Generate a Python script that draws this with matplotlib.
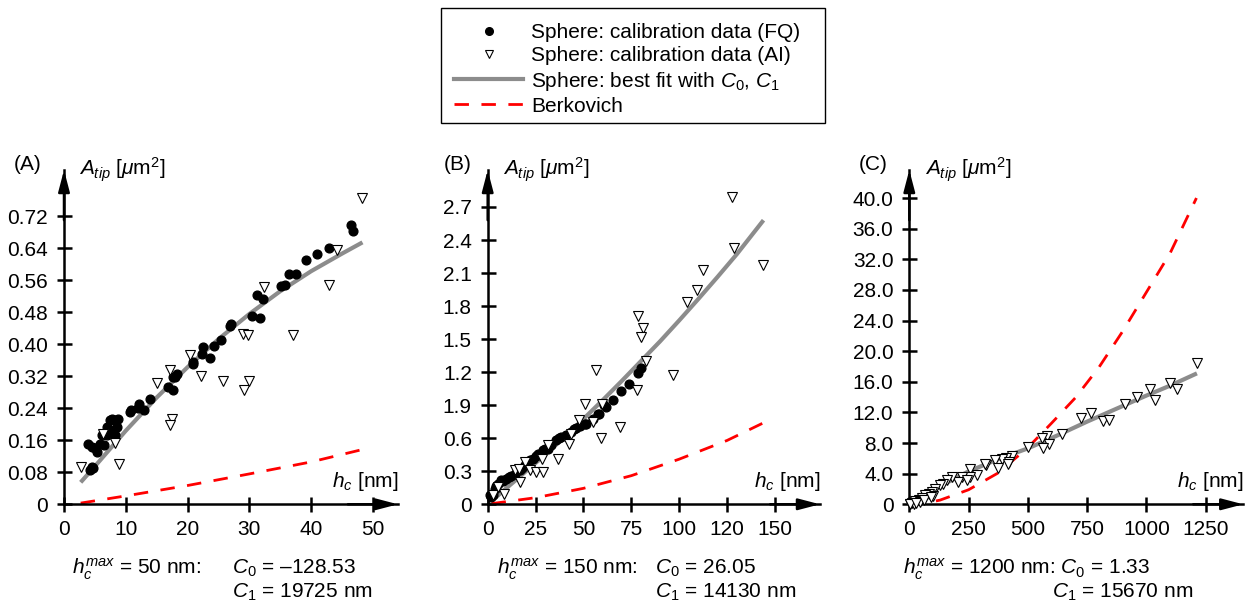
import matplotlib
matplotlib.use("Agg")
import matplotlib.pyplot as plt
from matplotlib.lines import Line2D
from matplotlib.patches import Rectangle

plt.rcParams['font.family'] = ['Liberation Sans', 'DejaVu Sans']
plt.rcParams['mathtext.fontset'] = 'custom'
plt.rcParams['mathtext.rm'] = 'Liberation Sans'
plt.rcParams['mathtext.it'] = 'Liberation Sans:italic'
plt.rcParams['mathtext.bf'] = 'Liberation Sans:bold'

# ---------------- data ----------------
# Panel A (h_c max = 50 nm)
fq_a_x = [4.2, 4.5, 4.7, 3.9, 4.5, 5.0, 5.3, 5.8, 6.4, 6.1, 6.9, 7.4, 7.7, 8.3, 8.8, 8.5, 8.0, 8.3,
          7.4, 6.9, 10.7, 10.9, 12.2, 12.0, 12.9, 13.9, 16.9, 17.6, 17.7, 18.0, 18.3, 20.8, 20.9,
          22.5, 22.4, 23.6, 24.2, 25.4, 26.9, 27.0, 30.4, 31.7, 31.3, 32.2, 35.1, 35.8, 36.4,
          37.5, 39.2, 40.9, 42.9, 46.4, 46.7]
fq_a_y = [0.085, 0.093, 0.090, 0.152, 0.143, 0.140, 0.131, 0.152, 0.148, 0.173, 0.193, 0.210,
          0.214, 0.210, 0.214, 0.193, 0.185, 0.173, 0.181, 0.173, 0.231, 0.235, 0.252, 0.242,
          0.235, 0.264, 0.293, 0.285, 0.318, 0.318, 0.327, 0.352, 0.356, 0.393, 0.377, 0.367,
          0.395, 0.410, 0.447, 0.452, 0.471, 0.466, 0.524, 0.514, 0.546, 0.549, 0.575, 0.575,
          0.612, 0.625, 0.641, 0.698, 0.683]
ai_a_x = [2.7, 6.3, 8.3, 8.9, 15.0, 17.2, 17.4, 17.2, 20.4, 22.1, 25.8, 48.3, 44.2, 32.4, 42.9,
          29.0, 29.7, 37.1, 29.9, 29.2]
ai_a_y = [0.093, 0.177, 0.153, 0.102, 0.304, 0.335, 0.2125, 0.1975, 0.3725, 0.320, 0.308, 0.767,
          0.637, 0.543, 0.5475, 0.427, 0.4225, 0.4225, 0.3075, 0.285]
fit_a_x = [2.7, 5, 10, 15, 20, 25, 30, 35, 40, 45, 48.3]
fit_a_y = [0.055, 0.095, 0.184, 0.267, 0.343, 0.413, 0.476, 0.533, 0.583, 0.627, 0.655]
berk_a_x = [2.7, 10, 20, 30, 40, 48.3]
berk_a_y = [0.003, 0.021, 0.047, 0.076, 0.106, 0.137]

# Panel B (h_c max = 150 nm)
fq_b_x = [1.0, 1.9, 2.8, 3.6, 4.5, 5.4, 7.1, 8.0, 9.7, 11.0, 12.3, 14.1, 16.7, 18.0, 19.3, 21.9,
          23.6, 25.0, 26.2, 28.8, 30.0, 31.4, 33.2, 35.8, 37.0, 38.4, 41.0, 43.6, 45.0, 46.2, 48.0,
          50.9, 51.4, 54.9, 57.5, 58.3, 60.9, 61.8, 65.3, 69.6, 74.0, 78.3, 80.0]
fq_b_y = [0.082, 0.066, 0.082, 0.143, 0.170, 0.188, 0.218, 0.210, 0.233, 0.250, 0.255, 0.279,
          0.309, 0.330, 0.355, 0.400, 0.415, 0.440, 0.460, 0.490, 0.500, 0.506, 0.536, 0.582,
          0.600, 0.612, 0.633, 0.657, 0.680, 0.697, 0.710, 0.733, 0.733, 0.779, 0.824, 0.824,
          0.900, 0.885, 0.945, 1.030, 1.097, 1.194, 1.242]
ai_b_x = [2.8, 8.3, 5.4, 14.1, 16.7, 16.3, 19.3, 21.9, 25.4, 28.8, 28.5, 31.4, 36.6, 42.4, 43.6,
          47.6, 50.9, 54.9, 59.2, 59.7, 69.1, 56.3, 127.8, 128.6, 143.9, 112.5, 109.5, 103.8,
          78.6, 81.3, 80.0, 82.7, 96.5, 77.8]
ai_b_y = [0.082, 0.097, 0.157, 0.309, 0.203, 0.324, 0.385, 0.309, 0.294, 0.294, 0.415, 0.536,
          0.415, 0.545, 0.642, 0.764, 0.915, 0.748, 0.600, 0.915, 0.700, 1.220, 2.790, 2.330,
          2.170, 2.130, 1.950, 1.840, 1.710, 1.600, 1.515, 1.300, 1.170, 1.040]
fit_b_x = [3, 10, 20, 30, 40, 50, 60, 70, 80, 90, 100, 110, 120, 130, 144]
fit_b_y = [0.045, 0.15, 0.30, 0.45, 0.61, 0.775, 0.945, 1.12, 1.30, 1.48, 1.67, 1.865, 2.065, 2.27, 2.58]
berk_b_x = [2, 25, 50, 75, 100, 125, 144]
berk_b_y = [0.006, 0.06, 0.145, 0.26, 0.41, 0.58, 0.74]

# Panel C (h_c max = 1200 nm)
ai_c_x = [1215, 1098, 1131, 1014, 1035, 962, 909, 766, 724, 815, 842, 643, 579, 558, 590, 562,
          502, 432, 408, 390, 362, 376, 422, 324, 254, 285, 257, 222, 207, 180, 159, 144, 128,
          109, 96, 81, 102, 67, 53, 39, 25, 11, 1, 18, 46, 320, 418, 243, 5, 30, 60, 90]
ai_c_y = [18.4, 15.86, 15.12, 15.12, 13.6, 13.95, 13.16, 11.93, 11.28, 10.85, 10.98, 9.15, 8.89,
          8.72, 7.93, 7.41, 7.49, 6.27, 6.10, 5.88, 5.75, 4.80, 5.53, 5.10, 4.58, 3.79, 3.57,
          3.57, 2.92, 3.57, 3.23, 2.71, 2.48, 2.05, 1.61, 1.40, 1.05, 1.18, 0.87, 0.61, 0.39,
          0.17, 0.0, 0.0, 0.3, 5.23, 5.32, 3.14, 0.05, 0.15, 0.5, 0.9]
fit_c_x = [3, 50, 100, 175, 250, 375, 500, 625, 750, 875, 1000, 1100, 1213]
fit_c_y = [0.05, 0.9, 1.8, 3.1, 4.3, 5.9, 7.3, 9.0, 10.8, 12.5, 14.2, 15.5, 17.1]
berk_c_x = [0, 60, 130, 250, 375, 500, 600, 700, 800, 900, 1000, 1100, 1211]
berk_c_y = [0.0, 0.1, 0.55, 1.9, 4.1, 7.4, 10.6, 13.9, 17.9, 22.6, 27.7, 32.8, 40.0]

# ticks / labels
a_yticks = [0, 0.08, 0.16, 0.24, 0.32, 0.40, 0.48, 0.56, 0.64, 0.72]
a_yticklabels = ['0', '0.08', '0.16', '0.24', '0.32', '0.40', '0.48', '0.56', '0.64', '0.72']
a_xticks = [0, 10, 20, 30, 40, 50]
a_xticklabels = ['0', '10', '20', '30', '40', '50']
b_yticks = [0, 0.3, 0.6, 0.9, 1.2, 1.5, 1.8, 2.1, 2.4, 2.7]
b_yticklabels = ['0', '0.3', '0.6', '1.9', '1.2', '1.5', '1.8', '2.1', '2.4', '2.7']
b_xticks = [0, 25, 50, 75, 100, 125, 150]
b_xticklabels = ['0', '25', '50', '75', '100', '120', '150']
c_yticks = [0, 4, 8, 12, 16, 20, 24, 28, 32, 36, 40]
c_yticklabels = ['0', '4.0', '8.0', '12.0', '16.0', '20.0', '24.0', '28.0', '32.0', '36.0', '40.0']
c_xticks = [0, 250, 500, 750, 1000, 1250]
c_xticklabels = ['0', '250', '500', '750', '1000', '1250']

panel_letters = ['(A)', '(B)', '(C)']
hmax_texts = [r'$h_c^{max}$ = 50 nm:', r'$h_c^{max}$ = 150 nm:',
              r'$h_c^{max}$ = 1200 nm: $C_0$ = 1.33']
c0_texts = [r'$C_0$ = –128.53', r'$C_0$ = 26.05', '']
c1_texts = [r'$C_1$ = 19725 nm', r'$C_1$ = 14130 nm', r'$C_1$ = 15670 nm']

legend_labels = ['Sphere: calibration data (FQ)  ', 'Sphere: calibration data (AI)',
                 r'Sphere: best fit with $\mathit{C_0}$, $\mathit{C_1}$', 'Berkovich']

# ---------------- figure ----------------
W, H = 1252, 606
fig = plt.figure(figsize=(W / 100, H / 100), dpi=100)

GRAY = '#8c8c8c'
RED = '#ff0000'
FS = 15
DASH = (5.2, 4.5)


def rect(x0, x1, ytop, ybot):
    return [x0 / W, (H - ybot) / H, (x1 - x0) / W, (ybot - ytop) / H]


panels = [
    dict(r=rect(64, 398, 170, 504.3), xlim=54.05, ylim=0.836,
         fq=(fq_a_x, fq_a_y), ai=(ai_a_x, ai_a_y), fit=(fit_a_x, fit_a_y), berk=(berk_a_x, berk_a_y),
         yt=a_yticks, ytl=a_yticklabels, xt=a_xticks, xtl=a_xticklabels,
         letter_x=14, hx=72, cx=232, c1x=232),
    dict(r=rect(487.7, 820, 170, 504.3), xlim=173.5, ylim=3.036,
         fq=(fq_b_x, fq_b_y), ai=(ai_b_x, ai_b_y), fit=(fit_b_x, fit_b_y), berk=(berk_b_x, berk_b_y),
         yt=b_yticks, ytl=b_yticklabels, xt=b_xticks, xtl=b_xticklabels,
         letter_x=444, hx=497, cx=655, c1x=655),
    dict(r=rect(909.3, 1243.3, 170, 504.3), xlim=1408.6, ylim=43.66,
         fq=None, ai=(ai_c_x, ai_c_y), fit=(fit_c_x, fit_c_y), berk=(berk_c_x, berk_c_y),
         yt=c_yticks, ytl=c_yticklabels, xt=c_xticks, xtl=c_xticklabels,
         letter_x=859, hx=903, cx=1050, c1x=1052),
]

for i, p in enumerate(panels):
    ax = fig.add_axes(p['r'])
    ax.set_xlim(0, p['xlim'])
    ax.set_ylim(0, p['ylim'])
    ax.patch.set_visible(False)
    for s in ['top', 'right']:
        ax.spines[s].set_visible(False)
    for s in ['left', 'bottom']:
        ax.spines[s].set_linewidth(1.8)
    ax.set_xticks(p['xt'])
    ax.set_xticklabels(p['xtl'])
    ax.set_yticks(p['yt'])
    ax.set_yticklabels(p['ytl'])
    ax.tick_params(direction='inout', length=10.8, width=1.8, pad=6, labelsize=FS)

    ax.plot(p['fit'][0], p['fit'][1], color=GRAY, lw=3, zorder=2, solid_capstyle='butt')
    ax.plot(p['berk'][0], p['berk'][1], color=RED, lw=2, dashes=DASH, zorder=2.5, clip_on=False)
    if p['fq'] is not None:
        ax.plot(p['fq'][0], p['fq'][1], 'o', color='k', ms=6.3, zorder=3, clip_on=False)
    ax.plot(p['ai'][0], p['ai'][1], 'v', mfc='white', mec='k', ms=7, mew=0.8, zorder=4, clip_on=False)

    ap = dict(arrowstyle='-|>,head_length=0.65,head_width=0.17', lw=1.8, color='k',
              shrinkA=0, shrinkB=0, mutation_scale=20)
    ax.annotate('', xy=(1, 0), xytext=(0.85, 0), xycoords='axes fraction', arrowprops=ap,
                annotation_clip=False)
    ax.annotate('', xy=(0, 1), xytext=(0, 0.85), xycoords='axes fraction', arrowprops=ap,
                annotation_clip=False)

    ax.annotate(r'$A_{tip}$ [$\mathit{\mu}$m$^2$]', xy=(0, 1), xycoords='axes fraction',
                xytext=(11, 0), textcoords='offset points', ha='left', va='center', fontsize=FS)
    ax.annotate(r'$h_c$ [nm]', xy=(1, 0), xycoords='axes fraction',
                xytext=(0, 8), textcoords='offset points', ha='right', va='bottom', fontsize=FS)

    fig.text(p['letter_x'] / W, 1 - 165 / H, panel_letters[i], ha='left', va='center', fontsize=FS)
    fig.text(p['hx'] / W, 1 - 574 / H, hmax_texts[i], ha='left', va='baseline', fontsize=FS)
    if c0_texts[i]:
        fig.text(p['cx'] / W, 1 - 574 / H, c0_texts[i], ha='left', va='baseline', fontsize=FS)
    fig.text(p['c1x'] / W, 1 - 598 / H, c1_texts[i], ha='left', va='baseline', fontsize=FS)

handles = [
    Line2D([], [], marker='o', ls='none', color='k', ms=5.5),
    Line2D([], [], marker='v', ls='none', mfc='white', mec='k', ms=5.5, mew=0.8),
    Line2D([], [], color=GRAY, lw=3),
    Line2D([], [], color=RED, lw=2, dashes=DASH),
]
leg = fig.legend(handles, legend_labels, loc='upper center', bbox_to_anchor=(633 / W, 1 - 17 / H),
                 frameon=False, fontsize=FS,
                 handlelength=3.3, handletextpad=0.4, labelspacing=0.2, borderpad=0.3,
                 borderaxespad=0)
fig.patches.append(Rectangle((441 / W, 1 - 123 / H), (825 - 441) / W, (123 - 8) / H,
                             transform=fig.transFigure, fill=False, edgecolor='k', lw=1.0))

fig.savefig('out.png', dpi=100)
